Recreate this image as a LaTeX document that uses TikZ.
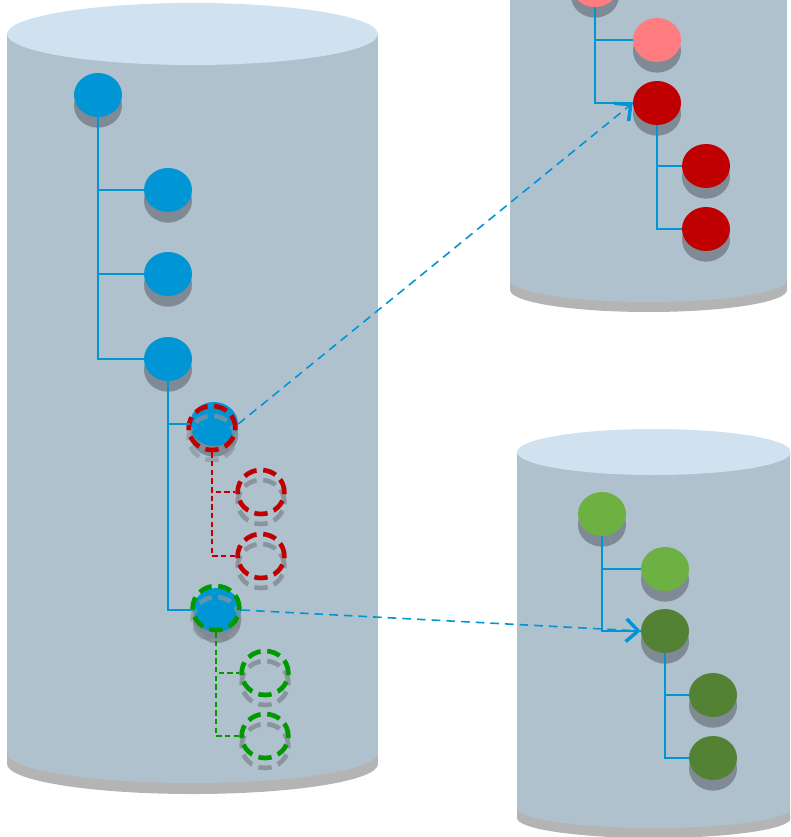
\documentclass[tikz,border=0pt]{standalone}
\usetikzlibrary{shapes.geometric,shadows,arrows.meta}
\definecolor{cylbody}{HTML}{B0C1CE}
\definecolor{cyltop}{HTML}{D0E1EF}
\definecolor{cylsh}{HTML}{B4B4B4}
\definecolor{nsh}{HTML}{7F8A94}
\definecolor{ringsh}{HTML}{8A949D}
\definecolor{nblue}{HTML}{0096D6}
\definecolor{npink}{HTML}{FF7C80}
\definecolor{nred}{HTML}{C00000}
\definecolor{nlgreen}{HTML}{6DB143}
\definecolor{ndgreen}{HTML}{548235}
\definecolor{rgreen}{HTML}{009900}
\begin{document}
\begin{tikzpicture}[x=0.75pt,y=-0.75pt,
 dot/.style={ellipse, minimum width=36pt, minimum height=33pt, inner sep=0pt, draw=none, fill=#1,
   drop shadow={shadow xshift=0pt, shadow yshift=-8pt, fill=nsh, opacity=1}},
 ring/.style={ellipse, minimum width=35pt, minimum height=33pt, inner sep=0pt, draw=#1, line width=3.5pt,
   dash pattern=on 10pt off 5pt},
 ringshadow/.style={draw=ringsh, line width=3.5pt, dash pattern=on 10pt off 5pt},
 link/.style={draw=nblue, line width=1.5pt},
 sublink/.style={draw=#1, line width=1.1pt, dash pattern=on 4pt off 2.5pt},
 move/.style={draw=nblue, line width=1.2pt, dash pattern=on 6.5pt off 4.5pt,
   -{Straight Barb[length=9pt,width=17pt,line width=2.6pt]}}
]
\useasboundingbox (0,0) rectangle (790,837);
\clip (0,0) rectangle (790,837);

% left cylinder
\fill[cylsh] (7,753) rectangle (378,764);
\fill[cylsh] (192.5,764) ellipse [x radius=139.1pt, y radius=22.5pt];
\fill[cylbody] (7,34) rectangle (378,753);
\fill[cylbody] (192.5,753) ellipse [x radius=139.1pt, y radius=22.5pt];
\fill[cyltop] (192.5,34) ellipse [x radius=139.1pt, y radius=23.25pt];

% top right cylinder
\fill[cylsh] (510,280) rectangle (787,290);
\fill[cylsh] (648.5,290) ellipse [x radius=103.9pt, y radius=16.5pt];
\fill[cylbody] (510,-20) rectangle (787,280);
\fill[cylbody] (648.5,280) ellipse [x radius=103.9pt, y radius=16.5pt];

% bottom right cylinder
\fill[cylsh] (517,808) rectangle (791,818);
\fill[cylsh] (654,818) ellipse [x radius=102.75pt, y radius=15pt];
\fill[cylbody] (517,452) rectangle (791,808);
\fill[cylbody] (654,808) ellipse [x radius=102.75pt, y radius=15pt];
\fill[cyltop] (654,452) ellipse [x radius=102.75pt, y radius=17.25pt];

% left tree
\node[dot=nblue] (A) at (98,95) {};
\node[dot=nblue] (B) at (168,190) {};
\node[dot=nblue] (C) at (168,274) {};
\node[dot=nblue] (D) at (168,359) {};

\node[dot=nblue] (E) at (214,424) {};
\draw[ringshadow, opacity=0.7] (212,438) ellipse [x radius=17.5pt, y radius=16.5pt];
\node[ring=nred] (Er) at (212,428) {};
\draw[ringshadow] (261,502) ellipse [x radius=17.5pt, y radius=16.5pt];
\node[ring=nred] (F) at (261,492) {};
\draw[ringshadow] (261,566) ellipse [x radius=17.5pt, y radius=16.5pt];
\node[ring=nred] (G) at (261,556) {};

\node[dot=nblue] (H) at (217,610) {};
\draw[ringshadow, opacity=0.7] (216,619) ellipse [x radius=17.5pt, y radius=16.5pt];
\node[ring=rgreen] (Hr) at (216,608) {};
\draw[ringshadow] (265,683) ellipse [x radius=17.5pt, y radius=16.5pt];
\node[ring=rgreen] (I) at (265,673) {};
\draw[ringshadow] (265,746) ellipse [x radius=17.5pt, y radius=16.5pt];
\node[ring=rgreen] (J) at (265,736) {};

% top right tree
\node[dot=npink] (P0) at (595,-15) {};
\node[dot=npink] (P1) at (657,40) {};
\node[dot=nred] (R0) at (657,103) {};
\node[dot=nred] (R1) at (706,166) {};
\node[dot=nred] (R2) at (706,229) {};

% bottom right tree
\node[dot=nlgreen] (G0) at (602,514) {};
\node[dot=nlgreen] (G1) at (665,569) {};
\node[dot=ndgreen] (D0) at (665,631) {};
\node[dot=ndgreen] (D1) at (713,695) {};
\node[dot=ndgreen] (D2) at (713,758) {};

% connectors
\draw[link] (A.south) |- (B.west);
\draw[link] (A.south) |- (C.west);
\draw[link] (A.south) |- (D.west);
\draw[link] (D.south) |- (E.west);
\draw[link] (D.south) |- (H.west);
\draw[sublink=nred] (Er.south) |- (F.west);
\draw[sublink=nred] (Er.south) |- (G.west);
\draw[sublink=rgreen] (Hr.south) |- (I.west);
\draw[sublink=rgreen] (Hr.south) |- (J.west);

\draw[link] (P0.south) |- (P1.west);
\draw[link] (P0.south) |- (R0.west);
\draw[link] (R0.south) |- (R1.west);
\draw[link] (R0.south) |- (R2.west);

\draw[link] (G0.south) |- (G1.west);
\draw[link] (G0.south) |- (D0.west);
\draw[link] (D0.south) |- (D1.west);
\draw[link] (D0.south) |- (D2.west);

\draw[move] (E.east) -- (R0.west);
\draw[move] (H.east) -- (D0.west);
\end{tikzpicture}
\end{document}
